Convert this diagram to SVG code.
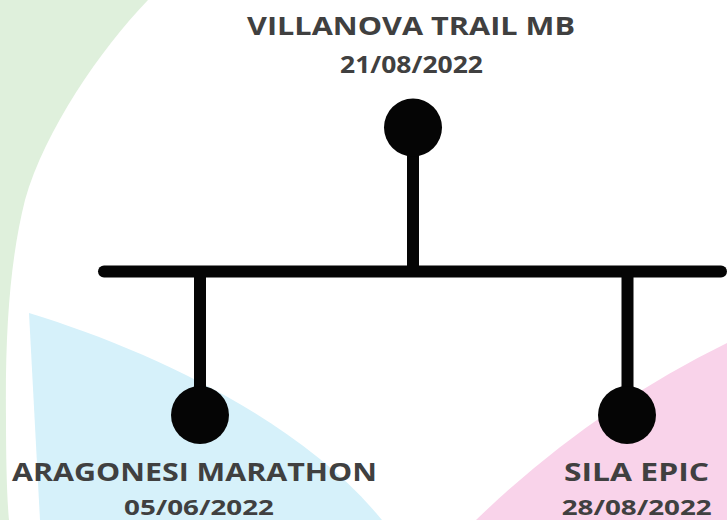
<svg xmlns="http://www.w3.org/2000/svg" width="727" height="520" viewBox="0 0 727 520">
<style>
.t{font-family:"Open Sans","Liberation Sans",sans-serif;font-weight:700;fill:#404040;text-anchor:middle}
.ln{stroke:#050505;stroke-width:12;fill:none}
.dot{fill:#050505}
</style>
<rect width="727" height="520" fill="#ffffff"/>
<g id="background">
<path d="M0,0 L148,0 C100,50 45,130 25,200 C10,260 5,330 6,420 C6,460 7,500 9,520 L0,520 Z" fill="#dff0dc"/>
<path d="M29,313 C150,350 300,420 382,520 L40,520 Z" fill="#d6f1fa"/>
<path d="M476,520 Q590,410 727,343 L727,520 Z" fill="#f9d3ea"/>
</g>
<g id="connectors">
<line class="ln" x1="104" y1="271.5" x2="721" y2="271.5" stroke-linecap="round"/>
<line class="ln" x1="413" y1="128" x2="413" y2="271"/>
<line class="ln" x1="200" y1="271" x2="200" y2="415"/>
<line class="ln" x1="627.5" y1="271" x2="627.5" y2="415"/>
</g>
<g id="node-villanova">
<circle class="dot" cx="413" cy="127.5" r="29"/>
<text class="t" x="411" y="35" font-size="25" textLength="328" lengthAdjust="spacingAndGlyphs">VILLANOVA TRAIL MB</text>
<text class="t" x="411.5" y="73" font-size="23" textLength="143" lengthAdjust="spacingAndGlyphs">21/08/2022</text>
</g>
<g id="node-aragonesi">
<circle class="dot" cx="200" cy="415" r="29"/>
<text class="t" x="194.5" y="481" font-size="25" textLength="365" lengthAdjust="spacingAndGlyphs">ARAGONESI MARATHON</text>
<text class="t" x="199" y="514.5" font-size="22" textLength="150" lengthAdjust="spacingAndGlyphs">05/06/2022</text>
</g>
<g id="node-sila">
<circle class="dot" cx="627" cy="415" r="29"/>
<text class="t" x="636.5" y="481" font-size="25" textLength="145" lengthAdjust="spacingAndGlyphs">SILA EPIC</text>
<text class="t" x="636.7" y="514.5" font-size="22" textLength="150" lengthAdjust="spacingAndGlyphs">28/08/2022</text>
</g>
</svg>
